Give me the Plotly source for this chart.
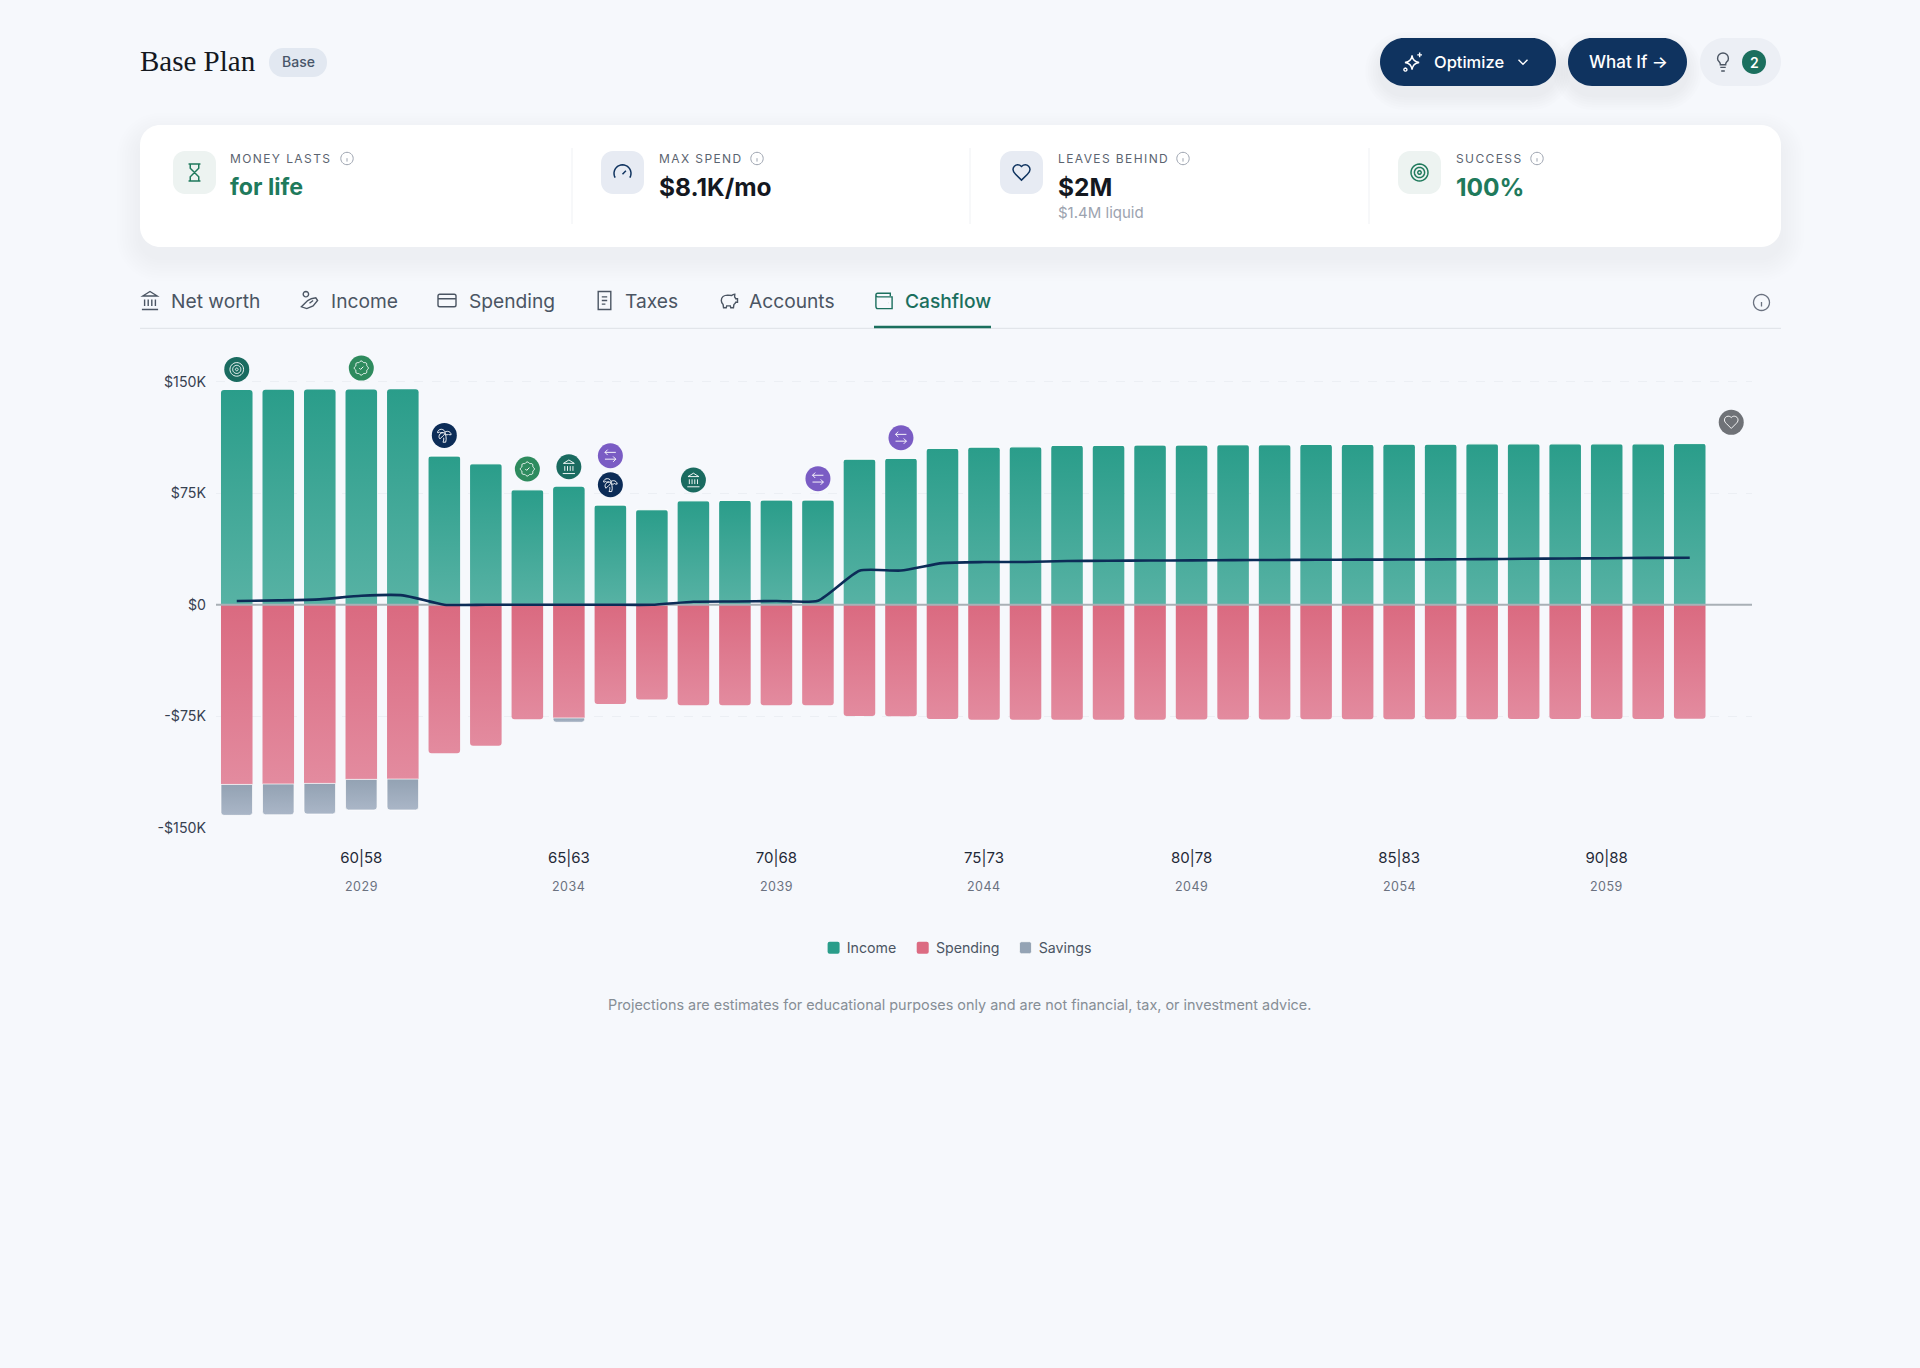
import math
import re
import plotly.graph_objects as go

W = 1920
H = 1368

# chart data, in thousands of dollars per year
year_index = list(range(37))
income = [144.4, 144.6, 144.8, 144.8, 145.0, 100.0, 94.8, 77.3, 79.3, 67.0, 63.9, 69.9,
          70.1, 70.4, 70.4, 97.9, 98.4, 105.1, 106.0, 106.2, 107.1, 107.1, 107.4, 107.4,
          107.6, 107.6, 107.8, 107.8, 108.0, 108.0, 108.2, 108.2, 108.2, 108.2, 108.2, 108.4]
spending = [-120.9, -120.6, -120.2, -117.5, -117.3, -100.0, -94.8, -77.1, -76.2, -66.8, -63.7, -67.7,
            -67.7, -67.7, -67.7, -74.9, -75.1, -76.9, -77.4, -77.4, -77.4, -77.4, -77.4, -77.2,
            -77.2, -77.2, -77.1, -77.1, -77.0, -77.0, -77.0, -76.9, -76.9, -76.8, -76.8, -76.7]
savings = [-20.8, -20.7, -20.6, -20.6, -20.8, 0, 0, 0, -2.9, 0, 0, 0,
           0, 0, 0, 0, 0, 0, 0, 0, 0, 0, 0, 0,
           0, 0, 0, 0, 0, 0, 0, 0, 0, 0, 0, 0]
net_line = [2.5, 2.9, 3.6, 6.0, 6.3, 0, 0, 0, 0, 0, 0, 2.0,
            2.2, 2.5, 2.7, 22.9, 23.0, 28.0, 28.7, 28.7, 29.4, 29.6, 29.7, 29.8,
            30.0, 30.1, 30.2, 30.3, 30.4, 30.5, 30.7, 30.9, 31.1, 31.3, 31.5, 31.6]

tick_index = [3, 8, 13, 18, 23, 28, 33]
tick_ages = ["60|58", "65|63", "70|68", "75|73", "80|78", "85|83", "90|88"]
tick_years = ["2029", "2034", "2039", "2044", "2049", "2054", "2059"]
y_ticks = [-150, -75, 0, 75, 150]
y_labels = ["-$150K", "-$75K", "$0", "$75K", "$150K"]

event_index = [0, 3, 5, 7, 8, 9, 9, 11, 14, 16, 36]
event_value = [158.3, 159.2, 113.9, 91.3, 92.8, 100.2, 80.7, 83.9, 84.8, 112.3, 122.7]
event_kind = ["target", "check", "palm", "check", "bank", "transfer", "palm", "bank", "transfer", "transfer", "heart"]
event_colors = {"target": "#1a6b60", "check": "#2e8b5e", "palm": "#0c2c57", "bank": "#1a6b60",
                "transfer": "#7a5cc4", "heart": "#6f7277"}

INK = "#14181f"
GREEN = "#1f7a5c"
TEAL = "#1b6f5e"
NAVY = "#0f335f"
FONT = "Inter"


def circle(cx, cy, r, n=28):
    pts = [(cx + r * math.cos(2 * math.pi * i / n), cy + r * math.sin(2 * math.pi * i / n)) for i in range(n)]
    return "M" + " L".join(f"{x:.2f} {y:.2f}" for x, y in pts) + " Z"


def arc(cx, cy, r, a0, a1, n=20):
    pts = []
    for i in range(n + 1):
        a = math.radians(a0 + (a1 - a0) * i / n)
        pts.append((cx + r * math.cos(a), cy + r * math.sin(a)))
    return "M" + " L".join(f"{x:.2f} {y:.2f}" for x, y in pts)


def wavy(cx, cy, r, amp, lobes, n=64):
    pts = []
    for i in range(n):
        a = 2 * math.pi * i / n
        rr = r + amp * math.cos(lobes * a)
        pts.append((cx + rr * math.cos(a), cy + rr * math.sin(a)))
    return "M" + " L".join(f"{x:.2f} {y:.2f}" for x, y in pts) + " Z"


# icons live in a 24 box, absolute M L C Q Z commands only
ICONS = {
    "hourglass": "M5 22 L19 22 M5 2 L19 2 M17 22 L17 17 L12 12 L7 17 L7 22 M7 2 L7 7 L12 12 L17 7 L17 2",
    "gauge": "M12 14 L16 10 " + arc(12, 13, 10, 150, 390),
    "heart": "M12 21 L5 14 C3.5 12.55 2 10.8 2 8.5 C2 5.5 4.5 3 7.5 3 C9.26 3 10.5 3.5 12 5 "
             "C13.5 3.5 14.74 3 16.5 3 C19.5 3 22 5.5 22 8.5 C22 10.8 20.5 12.55 19 14 Z",
    "target": circle(12, 12, 10) + " " + circle(12, 12, 6) + " " + circle(12, 12, 2),
    "check": wavy(12, 12, 9.6, 0.8, 8) + " M9 12 L11 14 L15 10",
    "palm": "M13 8 C13 5.24 10.54 3 7.5 3 C4.46 3 2 5.24 2 8 L4 8 L5 7 L6 8 L10 8 "
            "M13 7.14 C14 6.4 15.2 6 16.5 6 C19.54 6 22 8.24 22 11 L19 11 L18 10 L17 11 L14 11 "
            "M5.89 9.71 C3.74 11.86 3.59 15.18 5.54 17.14 L9.78 12.89 L13.35 9.36 C11.4 7.4 8.08 7.56 5.93 9.71 "
            "M11 15.5 C11.5 18 10.83 20 10 22 L14 22 C16 16.5 13.5 10 13 8",
    "transfer": "M8 3 L4 7 L8 11 M4 7 L20 7 M16 21 L20 17 L16 13 M20 17 L4 17",
    "bank": "M3 22 L21 22 M6 18 L6 11 M10 18 L10 11 M14 18 L14 11 M18 18 L18 11 M12 2 L20 7 L4 7 Z",
    "sparkle": "M11 5 C11.5 9.5 14 12 18.5 12.5 C14 13 11.5 15.5 11 20 C10.5 15.5 8 13 3.5 12.5 C8 12 10.5 9.5 11 5 Z "
               "M19 2 L19 7 M16.5 4.5 L21.5 4.5 " + circle(4, 20, 1.6, 12),
    "chevron": "M6 9 L12 15 L18 9",
    "bulb": "M15 14 C15.2 13 15.7 12.3 16.5 11.5 C17.5 10.6 18 9.3 18 8 C18 4.7 15.3 2 12 2 "
            "C8.7 2 6 4.7 6 8 C6 9 6.2 10.2 7.5 11.5 C8.2 12.2 8.8 13 9 14 L9 15 L15 15 Z M9 18 L15 18 M10 22 L14 22",
    "info": circle(12, 12, 10) + " M12 17 L12 11.5 M12 7.5 L12 7.6",
    "coins": circle(8, 5, 3, 16) + " M3 19 L10 12 L14 10 L19 9 L21 12 L16 18 L9 21 Z M12 15 L16 12",
    "card": "M4 5 L20 5 Q22 5 22 7 L22 17 Q22 19 20 19 L4 19 Q2 19 2 17 L2 7 Q2 5 4 5 Z M2 10 L22 10",
    "receipt": "M5 2 L19 2 L19 22 L5 22 Z M9 8 L15 8 M9 12 L15 12 M9 16 L13 16",
    "piggy": "M19 5 C17.5 5 16.5 5.5 15.5 6.5 L11 6 C7 6 4 8.5 4 12 C4 14 5 15.5 6 16.5 L6.5 20 L9.5 20 L10 18 "
             "L14 18 L14.5 20 L17.5 20 L18 16.5 C19 15.7 19.7 15 20 14 L22 14 L22 10 L20 10 C19.7 9 19.3 8.5 18.8 8 Z",
    "wallet": "M19 7 L19 4 L5 4 C3.5 4 3 5 3 6 L3 18 C3 20 4 21 5 21 L21 21 L21 8 L5 8 C4 8 3 7 3 6 M17 14.5 L17.1 14.5",
}


def glyph(name, s):
    # y goes up in plotly's pixel sized shapes, so flip it here
    out = []
    is_x = True
    for tok in re.findall(r"[MLCQZ]|-?\d+\.?\d*", ICONS[name]):
        if tok in "MLCQZ":
            out.append(tok)
            is_x = True
        else:
            v = float(tok) - 12
            out.append(f"{v * s:.2f}" if is_x else f"{-v * s:.2f}")
            is_x = not is_x
    return " ".join(out)


def fx(x):
    return x / W


def fy(y):
    return 1 - y / H


def page_icon(name, cx, cy, color, s=0.85, width=1.5, fill="rgba(0,0,0,0)"):
    return dict(type="path", xref="paper", yref="paper", xsizemode="pixel", ysizemode="pixel",
                xanchor=fx(cx), yanchor=fy(cy), path=glyph(name, s),
                line=dict(color=color, width=width), fillcolor=fill, layer="above")


def rrect(x0, y0, x1, y1, r, fill):
    k = r * 0.45
    path = (f"M{fx(x0 + r)} {fy(y0)} L{fx(x1 - r)} {fy(y0)} "
            f"C{fx(x1 - k)} {fy(y0)} {fx(x1)} {fy(y0 + k)} {fx(x1)} {fy(y0 + r)} "
            f"L{fx(x1)} {fy(y1 - r)} C{fx(x1)} {fy(y1 - k)} {fx(x1 - k)} {fy(y1)} {fx(x1 - r)} {fy(y1)} "
            f"L{fx(x0 + r)} {fy(y1)} C{fx(x0 + k)} {fy(y1)} {fx(x0)} {fy(y1 - k)} {fx(x0)} {fy(y1 - r)} "
            f"L{fx(x0)} {fy(y0 + r)} C{fx(x0)} {fy(y0 + k)} {fx(x0 + k)} {fy(y0)} {fx(x0 + r)} {fy(y0)} Z")
    return dict(type="path", xref="paper", yref="paper", path=path, fillcolor=fill,
                line=dict(width=0), layer="below")


def shadow(x0, y0, x1, y1, r, dy, steps, grow, alpha):
    return [rrect(x0 - i * grow, y0 + dy - i * grow, x1 + i * grow, y1 + dy + i * grow, r + i * grow,
                  f"rgba(40,45,55,{alpha})") for i in range(steps, 0, -1)]


def hline(x0, x1, y, color, width):
    return dict(type="line", xref="paper", yref="paper", x0=fx(x0), x1=fx(x1), y0=fy(y), y1=fy(y),
                line=dict(color=color, width=width), layer="below")


def vline(x, y0, y1, color, width):
    return dict(type="line", xref="paper", yref="paper", x0=fx(x), x1=fx(x), y0=fy(y0), y1=fy(y1),
                line=dict(color=color, width=width), layer="below")


def text(s, x, y, size, color, weight=400, anchor="left", family=FONT):
    return dict(text=s, x=fx(x), y=fy(y), xref="paper", yref="paper", showarrow=False,
                xanchor=anchor, yanchor="middle", align=anchor, borderpad=0,
                font=dict(family=family, size=size, color=color, weight=weight))


shapes = []
notes = []

# header
notes.append(text("Base Plan", 139, 61, 29, INK, family="Liberation Serif"))
shapes.append(rrect(269, 48, 327, 77, 14, "#e2e8f1"))
notes.append(text("Base", 298, 62, 14, "#475569", 500, "center"))

shapes += shadow(1380, 38, 1556, 86, 24, 9, 6, 2.5, 0.009)
shapes += shadow(1568, 38, 1687, 86, 24, 9, 6, 2.5, 0.009)
shapes.append(rrect(1380, 38, 1556, 86, 24, NAVY))
shapes.append(rrect(1568, 38, 1687, 86, 24, NAVY))
shapes.append(rrect(1700, 38, 1781, 86, 24, "#eceff5"))
shapes.append(page_icon("sparkle", 1413, 62, "white", 0.95, 1.4))
notes.append(text("Optimize", 1432.5, 62.5, 16.5, "white", 500))
shapes.append(page_icon("chevron", 1523, 62, "white", 0.75, 1.4))
notes.append(text("What If →", 1628, 62.5, 17, "white", 500, "center"))
shapes.append(page_icon("bulb", 1723, 62, "#4b5563", 0.9, 1.4))
shapes.append(rrect(1742, 50, 1766, 74, 12, TEAL))
notes.append(text("2", 1754, 62.5, 14, "white", 600, "center"))

# summary card
shapes += shadow(140, 125, 1781, 247, 20, 11, 9, 2.6, 0.0045)
shapes.append(rrect(140, 125, 1781, 247, 20, "white"))
for x in [572, 970, 1369]:
    shapes.append(vline(x, 148, 224, "#eff1f4", 1))

metrics = [
    ("MONEY LASTS", 173, 228.5, 347, "hourglass", GREEN, "#edf3f1", "for life", GREEN, 23.2),
    ("MAX SPEND", 601, 657.8, 757, "gauge", NAVY, "#e7ebf3", "$8.1K/mo", INK, 24.5),
    ("LEAVES BEHIND", 1000, 1056.5, 1183, "heart", NAVY, "#e7ebf3", "$2M", INK, 24.5),
    ("SUCCESS", 1398, 1455, 1537, "target", GREEN, "#edf3f1", "100%", GREEN, 24.5),
]
for label, tile_x, text_x, info_x, icon, icon_color, tile_color, value, value_color, value_size in metrics:
    shapes.append(rrect(tile_x, 151, tile_x + 43, 194, 12, tile_color))
    shapes.append(page_icon(icon, tile_x + 21.5, 172.5, icon_color, 0.85, 1.5))
    notes.append(text(label, text_x, 158.5, 12, "#5b6470", 400))
    shapes.append(page_icon("info", info_x, 158.5, "#9ca3af", 0.62, 1))
    notes.append(text(value, text_x, 187, value_size, value_color, 700))
notes.append(text("$1.4M liquid", 1056.5, 213, 15, "#9ca3af"))

# tabs
tabs = [("Net worth", 150, 169.5, "bank"), ("Income", 309.5, 329.5, "coins"), ("Spending", 447, 467.5, "card"),
        ("Taxes", 604.5, 624, "receipt"), ("Accounts", 728.5, 747.5, "piggy"), ("Cashflow", 884, 904, "wallet")]
for name, icon_x, text_x, icon in tabs:
    color = TEAL if name == "Cashflow" else "#4b5563"
    shapes.append(page_icon(icon, icon_x, 300.5, color, 0.9, 1.4))
    notes.append(text(name, text_x, 300.5, 19.2, color, 500 if name == "Cashflow" else 400))
shapes.append(hline(140, 1781, 328.3, "#e2e5ea", 1.2))
shapes.append(hline(874, 991, 327, TEAL, 2.5))
shapes.append(page_icon("info", 1761.5, 302.5, "#6b7280", 0.8, 1.3))

# years under the age ticks
for i, year in zip(tick_index, tick_years):
    n = text(year, 0, 886, 12.5, "#6b7280", 400, "center")
    n.update(x=i, xref="x")
    notes.append(n)

notes.append(text("Projections are estimates for educational purposes only and are not financial, tax, or investment advice.",
                  959.5, 1004.5, 14.4, "#868e96", 400, "center"))

fig = go.Figure()
fig.add_trace(go.Bar(x=year_index[:36], y=income, name="Income", marker=dict(color="#2a9d8a", line=dict(width=0))))
fig.add_trace(go.Bar(x=year_index[:36], y=spending, name="Spending", marker=dict(color="#dc6b82", line=dict(width=0))))
fig.add_trace(go.Bar(x=year_index[:36], y=savings, name="Savings",
                     marker=dict(color="#94a3b4", line=dict(width=1, color="rgba(255,255,255,0.7)"))))
fig.add_trace(go.Scatter(x=[year_index[0] - 0.5, year_index[-1] + 0.5], y=[0, 0], mode="lines",
                         line=dict(color="#a9b0b6", width=2), showlegend=False, hoverinfo="skip"))
fig.add_trace(go.Scatter(x=year_index[:36], y=net_line, mode="lines", showlegend=False,
                         line=dict(color="#0c2c57", width=2.6, shape="spline", smoothing=0.55)))
fig.add_trace(go.Scatter(x=event_index, y=event_value, mode="markers", showlegend=False,
                         marker=dict(size=25, color=[event_colors[k] for k in event_kind], line=dict(width=0))))

# event glyphs sit on the data through pixel sized shapes
for i, v, k in zip(event_index, event_value, event_kind):
    shapes.append(dict(type="path", xref="x", yref="y", xsizemode="pixel", ysizemode="pixel",
                       xanchor=i, yanchor=v, path=glyph(k, 0.68), layer="above",
                       line=dict(color="rgba(255,255,255,0.92)", width=1), fillcolor="rgba(0,0,0,0)"))

fig.update_layout(
    width=W, height=H, margin=dict(l=0, r=0, t=0, b=0, autoexpand=False),
    paper_bgcolor="#f6f8fc", plot_bgcolor="rgba(0,0,0,0)",
    barmode="relative", bargap=0.24, barcornerradius=3,
    font=dict(family=FONT, size=14, color="#374151"),
    shapes=shapes, annotations=notes,
    legend=dict(orientation="h", x=0.5, xanchor="center", y=fy(948), yanchor="middle",
                font=dict(size=14.2, color="#4b5563"), bgcolor="rgba(0,0,0,0)"),
    xaxis=dict(domain=[fx(216), fx(1752)], range=[-0.5, 36.5], tickmode="array", tickvals=tick_index,
               ticktext=tick_ages, showgrid=False, zeroline=False, showline=False, ticks="",
               ticklabelstandoff=19, tickfont=dict(size=15, color="#1f2937", weight=400)),
    yaxis=dict(domain=[fy(827.7), fy(352)], range=[-150, 170], tickmode="array", tickvals=y_ticks,
               ticktext=y_labels, showgrid=True, gridcolor="#eceff4", griddash="dash", gridwidth=1,
               zeroline=False, showline=False, ticks="", ticklabelstandoff=9,
               tickfont=dict(size=14.2, color="#374151")),
    hovermode=False,
)

# bar gradients, tracked labels and page reset are not reachable from the figure itself
post = """
document.documentElement.style.background = '#f6f8fc';
document.body.style.margin = '0';
document.documentElement.style.overflow = 'hidden';
var gd = document.getElementById('{plot_id}');
var svg = gd.querySelector('.main-svg');
var ns = 'http://www.w3.org/2000/svg';
var defs = svg.querySelector('defs');
var grads = [['gIncome', '#2a9d8a', '#57b2a4'], ['gSpending', '#da6a80', '#e38b9f'], ['gSavings', '#93a2b3', '#aab6c7']];
grads.forEach(function (g) {
    var lg = document.createElementNS(ns, 'linearGradient');
    lg.setAttribute('id', g[0]);
    lg.setAttribute('x1', '0'); lg.setAttribute('y1', '0'); lg.setAttribute('x2', '0'); lg.setAttribute('y2', '1');
    [[0, g[1]], [1, g[2]]].forEach(function (s) {
        var st = document.createElementNS(ns, 'stop');
        st.setAttribute('offset', s[0]);
        st.setAttribute('stop-color', s[1]);
        lg.appendChild(st);
    });
    defs.appendChild(lg);
});
gd.querySelectorAll('.barlayer .trace.bars').forEach(function (tr, i) {
    tr.querySelectorAll('.point path').forEach(function (p) {
        p.style.fill = 'url(#' + grads[i][0] + ')';
    });
});
gd.querySelectorAll('.annotation-text').forEach(function (t) {
    var s = t.textContent;
    if (s === s.toUpperCase() && /^[A-Z ]+$/.test(s)) t.style.letterSpacing = '1.4px';
    if (/^20[0-9][0-9]$/.test(s)) t.style.letterSpacing = '0.5px';
});
var legendShift = [-2.2, -7.6, -13.5];
gd.querySelectorAll('.legend .traces').forEach(function (tr, i) {
    var m = /translate\\(([-0-9.]+),\\s*([-0-9.]+)\\)/.exec(tr.getAttribute('transform'));
    if (m) tr.setAttribute('transform', 'translate(' + (parseFloat(m[1]) + legendShift[i]) + ',' + m[2] + ')');
    var sym = tr.querySelector('.legendsymbols');
    if (sym) sym.setAttribute('transform', 'translate(6.8,0)');
    var p = tr.querySelector('.legendpoints path');
    if (p) p.setAttribute('d', 'M-4,-6H4Q6,-6 6,-4V4Q6,6 4,6H-4Q-6,6 -6,4V-4Q-6,-6 -4,-6Z');
});
"""

fig.write_html("out.html", post_script=post, config=dict(displayModeBar=False))
